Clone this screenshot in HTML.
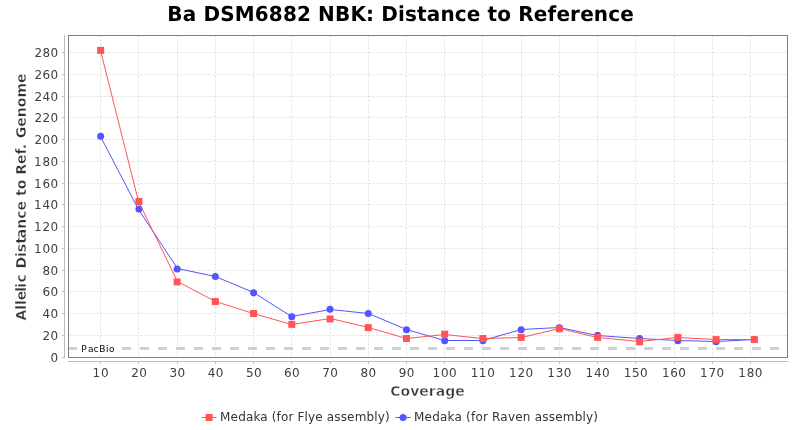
<!DOCTYPE html>
<html lang="en"><head><meta charset="utf-8"><title>Ba DSM6882 NBK: Distance to Reference</title>
<style>html,body{margin:0;padding:0;background:#fff;}body{width:800px;height:430px;overflow:hidden;}svg{display:block;font-family:'DejaVu Sans','Liberation Sans',sans-serif;will-change:transform;}.tick{font-size:12px;fill:#404040;}.grid{stroke:#c0c0c0;stroke-width:0.55;stroke-dasharray:2 2;fill:none;}</style></head><body>
<svg width="800" height="430" viewBox="0 0 800 430">
<rect width="800" height="430" fill="#ffffff"/>
<text transform="translate(400.6,21) scale(1,1.03)" text-rendering="geometricPrecision" text-anchor="middle" font-size="20" letter-spacing="0.145" font-weight="bold" fill="#000">Ba DSM6882 NBK: Distance to Reference</text>
<g class="grid">
<line x1="100.50" y1="35.50" x2="100.50" y2="357.00"/>
<line x1="138.50" y1="35.50" x2="138.50" y2="357.00"/>
<line x1="177.50" y1="35.50" x2="177.50" y2="357.00"/>
<line x1="215.50" y1="35.50" x2="215.50" y2="357.00"/>
<line x1="253.50" y1="35.50" x2="253.50" y2="357.00"/>
<line x1="291.50" y1="35.50" x2="291.50" y2="357.00"/>
<line x1="330.50" y1="35.50" x2="330.50" y2="357.00"/>
<line x1="368.50" y1="35.50" x2="368.50" y2="357.00"/>
<line x1="406.50" y1="35.50" x2="406.50" y2="357.00"/>
<line x1="444.50" y1="35.50" x2="444.50" y2="357.00"/>
<line x1="482.50" y1="35.50" x2="482.50" y2="357.00"/>
<line x1="521.50" y1="35.50" x2="521.50" y2="357.00"/>
<line x1="559.50" y1="35.50" x2="559.50" y2="357.00"/>
<line x1="597.50" y1="35.50" x2="597.50" y2="357.00"/>
<line x1="635.50" y1="35.50" x2="635.50" y2="357.00"/>
<line x1="674.50" y1="35.50" x2="674.50" y2="357.00"/>
<line x1="712.50" y1="35.50" x2="712.50" y2="357.00"/>
<line x1="750.50" y1="35.50" x2="750.50" y2="357.00"/>
<line x1="68.50" y1="335.50" x2="787.00" y2="335.50"/>
<line x1="68.50" y1="313.50" x2="787.00" y2="313.50"/>
<line x1="68.50" y1="291.50" x2="787.00" y2="291.50"/>
<line x1="68.50" y1="270.50" x2="787.00" y2="270.50"/>
<line x1="68.50" y1="248.50" x2="787.00" y2="248.50"/>
<line x1="68.50" y1="226.50" x2="787.00" y2="226.50"/>
<line x1="68.50" y1="204.50" x2="787.00" y2="204.50"/>
<line x1="68.50" y1="183.50" x2="787.00" y2="183.50"/>
<line x1="68.50" y1="161.50" x2="787.00" y2="161.50"/>
<line x1="68.50" y1="139.50" x2="787.00" y2="139.50"/>
<line x1="68.50" y1="117.50" x2="787.00" y2="117.50"/>
<line x1="68.50" y1="96.50" x2="787.00" y2="96.50"/>
<line x1="68.50" y1="74.50" x2="787.00" y2="74.50"/>
<line x1="68.50" y1="52.50" x2="787.00" y2="52.50"/>
</g>
<line x1="68.00" y1="348.50" x2="787.00" y2="348.50" stroke="#cfcfcf" stroke-width="3" stroke-dasharray="9 9"/>
<rect x="79" y="343" width="40" height="11" fill="#ffffff"/>
<text x="81.2 87.9 93.45 99.2 105.9 109.05" y="351.6" font-size="9" fill="#000">PacBio</text>
<polyline fill="none" stroke="#5555ff" stroke-width="1" stroke-linejoin="round" points="100.5,136.5 138.5,209.5 177.5,268.5 215.5,276.5 253.5,292.5 291.5,316.5 330.5,309.5 368.5,313.5 406.5,329.5 444.5,340.5 482.5,340.5 521.5,329.5 559.5,327.5 597.5,335.5 639.5,338.5 677.5,340.5 716.5,341.5 754.5,339.5"/>
<polyline fill="none" stroke="#ff5555" stroke-width="1" stroke-linejoin="round" points="100.5,50.5 138.5,201.5 177.5,281.5 215.5,301.5 253.5,313.5 291.5,324.5 330.5,318.5 368.5,327.5 406.5,338.5 444.5,334.5 482.5,338.5 521.5,337.5 559.5,328.5 597.5,337.5 639.5,341.5 677.5,337.5 716.5,339.5 754.5,339.5"/>
<circle cx="100.68" cy="136.24" r="3.5" fill="#5555ff"/>
<circle cx="138.91" cy="209.10" r="3.5" fill="#5555ff"/>
<circle cx="177.13" cy="268.91" r="3.5" fill="#5555ff"/>
<circle cx="215.35" cy="276.53" r="3.5" fill="#5555ff"/>
<circle cx="253.58" cy="292.84" r="3.5" fill="#5555ff"/>
<circle cx="291.80" cy="316.76" r="3.5" fill="#5555ff"/>
<circle cx="330.03" cy="309.15" r="3.5" fill="#5555ff"/>
<circle cx="368.25" cy="313.50" r="3.5" fill="#5555ff"/>
<circle cx="406.48" cy="329.81" r="3.5" fill="#5555ff"/>
<circle cx="444.70" cy="340.69" r="3.5" fill="#5555ff"/>
<circle cx="482.93" cy="340.69" r="3.5" fill="#5555ff"/>
<circle cx="521.15" cy="329.81" r="3.5" fill="#5555ff"/>
<circle cx="559.37" cy="327.64" r="3.5" fill="#5555ff"/>
<circle cx="597.60" cy="335.25" r="3.5" fill="#5555ff"/>
<circle cx="639.65" cy="338.51" r="3.5" fill="#5555ff"/>
<circle cx="677.87" cy="340.69" r="3.5" fill="#5555ff"/>
<circle cx="716.09" cy="341.78" r="3.5" fill="#5555ff"/>
<circle cx="754.32" cy="339.60" r="3.5" fill="#5555ff"/>
<rect x="97.18" y="46.83" width="7" height="7" fill="#ff5555"/>
<rect x="135.41" y="197.99" width="7" height="7" fill="#ff5555"/>
<rect x="173.63" y="278.46" width="7" height="7" fill="#ff5555"/>
<rect x="211.85" y="298.04" width="7" height="7" fill="#ff5555"/>
<rect x="250.08" y="310.00" width="7" height="7" fill="#ff5555"/>
<rect x="288.30" y="320.88" width="7" height="7" fill="#ff5555"/>
<rect x="326.53" y="315.44" width="7" height="7" fill="#ff5555"/>
<rect x="364.75" y="324.14" width="7" height="7" fill="#ff5555"/>
<rect x="402.98" y="335.01" width="7" height="7" fill="#ff5555"/>
<rect x="441.20" y="330.66" width="7" height="7" fill="#ff5555"/>
<rect x="479.43" y="335.01" width="7" height="7" fill="#ff5555"/>
<rect x="517.65" y="333.93" width="7" height="7" fill="#ff5555"/>
<rect x="555.87" y="325.23" width="7" height="7" fill="#ff5555"/>
<rect x="594.10" y="333.93" width="7" height="7" fill="#ff5555"/>
<rect x="636.15" y="338.28" width="7" height="7" fill="#ff5555"/>
<rect x="674.37" y="333.93" width="7" height="7" fill="#ff5555"/>
<rect x="712.59" y="336.10" width="7" height="7" fill="#ff5555"/>
<rect x="750.82" y="336.10" width="7" height="7" fill="#ff5555"/>
<rect x="68.5" y="35.5" width="719.0" height="322.0" fill="none" stroke="#7f7f7f" stroke-width="1"/>
<g stroke="#bdbdbd" stroke-width="1" fill="none">
<line x1="64.5" y1="35" x2="64.5" y2="358"/>
<line x1="68" y1="361.5" x2="787.7" y2="361.5"/>
<line x1="62" y1="357.50" x2="64.5" y2="357.50"/>
<line x1="62" y1="335.50" x2="64.5" y2="335.50"/>
<line x1="62" y1="313.50" x2="64.5" y2="313.50"/>
<line x1="62" y1="291.50" x2="64.5" y2="291.50"/>
<line x1="62" y1="270.50" x2="64.5" y2="270.50"/>
<line x1="62" y1="248.50" x2="64.5" y2="248.50"/>
<line x1="62" y1="226.50" x2="64.5" y2="226.50"/>
<line x1="62" y1="204.50" x2="64.5" y2="204.50"/>
<line x1="62" y1="183.50" x2="64.5" y2="183.50"/>
<line x1="62" y1="161.50" x2="64.5" y2="161.50"/>
<line x1="62" y1="139.50" x2="64.5" y2="139.50"/>
<line x1="62" y1="117.50" x2="64.5" y2="117.50"/>
<line x1="62" y1="96.50" x2="64.5" y2="96.50"/>
<line x1="62" y1="74.50" x2="64.5" y2="74.50"/>
<line x1="62" y1="52.50" x2="64.5" y2="52.50"/>
<line x1="100.50" y1="361.5" x2="100.50" y2="364"/>
<line x1="138.50" y1="361.5" x2="138.50" y2="364"/>
<line x1="177.50" y1="361.5" x2="177.50" y2="364"/>
<line x1="215.50" y1="361.5" x2="215.50" y2="364"/>
<line x1="253.50" y1="361.5" x2="253.50" y2="364"/>
<line x1="291.50" y1="361.5" x2="291.50" y2="364"/>
<line x1="330.50" y1="361.5" x2="330.50" y2="364"/>
<line x1="368.50" y1="361.5" x2="368.50" y2="364"/>
<line x1="406.50" y1="361.5" x2="406.50" y2="364"/>
<line x1="444.50" y1="361.5" x2="444.50" y2="364"/>
<line x1="482.50" y1="361.5" x2="482.50" y2="364"/>
<line x1="521.50" y1="361.5" x2="521.50" y2="364"/>
<line x1="559.50" y1="361.5" x2="559.50" y2="364"/>
<line x1="597.50" y1="361.5" x2="597.50" y2="364"/>
<line x1="635.50" y1="361.5" x2="635.50" y2="364"/>
<line x1="674.50" y1="361.5" x2="674.50" y2="364"/>
<line x1="712.50" y1="361.5" x2="712.50" y2="364"/>
<line x1="750.50" y1="361.5" x2="750.50" y2="364"/>
</g>
<g class="tick">
<text x="50.45" y="361.70">0</text>
<text x="42.45 50.45" y="339.95">20</text>
<text x="42.45 50.45" y="318.20">40</text>
<text x="42.45 50.45" y="296.45">60</text>
<text x="42.45 50.45" y="274.70">80</text>
<text x="34.00 42.45 50.45" y="252.95">100</text>
<text x="34.00 42.45 50.45" y="231.20">120</text>
<text x="34.00 42.45 50.45" y="209.45">140</text>
<text x="34.00 42.45 50.45" y="187.70">160</text>
<text x="34.00 42.45 50.45" y="165.96">180</text>
<text x="34.45 42.45 50.45" y="144.21">200</text>
<text x="34.45 42.45 50.45" y="122.46">220</text>
<text x="34.45 42.45 50.45" y="100.71">240</text>
<text x="34.45 42.45 50.45" y="78.96">260</text>
<text x="34.45 42.45 50.45" y="57.21">280</text>
<text x="92.53 100.98" y="377.3">10</text>
<text x="131.21 139.21" y="377.3">20</text>
<text x="169.43 177.43" y="377.3">30</text>
<text x="207.65 215.65" y="377.3">40</text>
<text x="245.88 253.88" y="377.3">50</text>
<text x="284.10 292.10" y="377.3">60</text>
<text x="322.33 330.33" y="377.3">70</text>
<text x="360.55 368.55" y="377.3">80</text>
<text x="398.78 406.78" y="377.3">90</text>
<text x="432.55 441.00 449.00" y="377.3">100</text>
<text x="470.78 478.78 487.23" y="377.3">110</text>
<text x="509.00 517.45 525.45" y="377.3">120</text>
<text x="547.22 555.67 563.67" y="377.3">130</text>
<text x="585.45 593.90 601.90" y="377.3">140</text>
<text x="623.67 632.12 640.12" y="377.3">150</text>
<text x="661.90 670.35 678.35" y="377.3">160</text>
<text x="700.12 708.57 716.57" y="377.3">170</text>
<text x="738.35 746.80 754.80" y="377.3">180</text>
</g>
<text x="427.5" y="396" text-anchor="middle" font-size="14" font-weight="bold" fill="#333" stroke="#fff" stroke-width="0.5">Coverage</text>
<text transform="translate(26.4,196.8) rotate(-90)" font-size="14" font-weight="bold" fill="#303030" stroke="#fff" stroke-width="0.4" letter-spacing="-0.035"><tspan x="-123.7" dx="0 0 0 0 -1 -0.9 0.6">Allelic </tspan><tspan x="-71.7" dx="0 0 0 0 -1">Distance </tspan><tspan x="0.85">to </tspan><tspan x="22.1">Ref. </tspan><tspan x="58.45" letter-spacing="0.05">Genome</tspan></text>
<line x1="201.5" y1="417.5" x2="216.5" y2="417.5" stroke="#ff5555" stroke-width="1"/>
<rect x="205.6" y="414" width="7" height="7" fill="#ff5555"/>
<text x="220.1" y="420.75" font-size="12" letter-spacing="0.15" fill="#333">Medaka (for Flye assembly)</text>
<line x1="395.5" y1="417.5" x2="410.5" y2="417.5" stroke="#5555ff" stroke-width="1"/>
<circle cx="403" cy="417.5" r="3.5" fill="#5555ff"/>
<text x="414.0" y="420.7" font-size="12" letter-spacing="0.207" fill="#333">Medaka (for Raven assembly)</text>
</svg></body></html>
